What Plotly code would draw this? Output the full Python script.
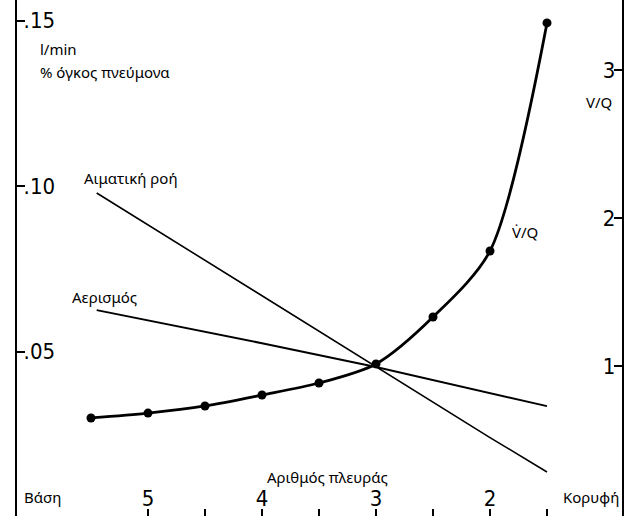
import plotly.graph_objects as go

# Rib number (x axis, base -> apex)
ribs = [5.45, 4, 3, 2, 1.5]
# Blood flow and ventilation (l/min per % lung volume, left axis)
blood_flow = [0.0979, 0.0668, 0.0453, 0.0240, 0.0136]
ventilation = [0.0625, 0.0525, 0.0453, 0.0374, 0.0335]
# V/Q ratio (right axis)
vq_ribs = [5.5, 5, 4.5, 4, 3.5, 3, 2.5, 2, 1.5]
vq = [0.649, 0.682, 0.730, 0.804, 0.885, 1.014, 1.331, 1.777, 3.318]

x_tickvals = [5, 4.5, 4, 3.5, 3, 2.5, 2, 1.5]
x_ticktext = ["5", "", "4", "", "3", "", "2", ""]
left_tickvals = [0.15, 0.10, 0.05]
left_ticktext = [".15", ".10", ".05"]
right_tickvals = [3, 2, 1]
right_ticktext = ["3", "2", "1"]

TXT = "Noto Sans, DejaVu Sans, sans-serif"
NUM = "Liberation Sans Narrow, DejaVu Sans Condensed, Arial Narrow, sans-serif"

fig = go.Figure()
fig.add_trace(go.Scatter(x=ribs, y=blood_flow, mode="lines",
                         line=dict(color="black", width=1.6), yaxis="y"))
fig.add_trace(go.Scatter(x=ribs, y=ventilation, mode="lines",
                         line=dict(color="black", width=2), yaxis="y"))
fig.add_trace(go.Scatter(x=vq_ribs, y=vq, mode="lines+markers",
                         line=dict(color="black", width=2.8, shape="spline", smoothing=0.8),
                         marker=dict(color="black", size=9), yaxis="y2"))

W, H = 626, 516
L, R = 17, 4
pw = W - L - R

def px(x):
    return (x - L) / pw

def py(y):
    return 1 - y / H

anns = [
    ("l/min", 38, 49, "left"),
    ("% όγκος πνεύμονα", 38, 72, "left"),
    ("Αιματική ροή", 82, 178, "left"),
    ("Αερισμός", 70, 297, "left"),
    ("V̇/Q", 510, 232, "left"),
    ("V/Q", 614, 102, "right"),
    ("Αριθμός πλευράς", 327, 477, "center"),
    ("Βάση", 22, 497, "left"),
    ("Κορυφή", 621, 497, "right"),
]
for t, x, y, a in anns:
    fig.add_annotation(text=t, x=px(x), y=py(y), xref="paper", yref="paper",
                       xanchor=a, yanchor="middle", showarrow=False,
                       font=dict(family=TXT, size=15, color="black"))

fig.update_layout(
    width=W, height=H,
    margin=dict(l=L, r=R, t=0, b=0),
    paper_bgcolor="white", plot_bgcolor="white",
    showlegend=False,
    xaxis=dict(range=[6.149, 0.842], showgrid=False, zeroline=False, showline=False,
               tickvals=x_tickvals, ticktext=x_ticktext,
               ticks="inside", ticklen=7, tickwidth=1.5, tickcolor="black",
               ticklabelposition="inside", ticklabelstandoff=0,
               tickfont=dict(family=NUM, size=22, color="black")),
    yaxis=dict(range=[0.0003, 0.1562], showgrid=False, zeroline=False,
               showline=True, linecolor="black", linewidth=2,
               tickvals=left_tickvals, ticktext=left_ticktext,
               ticks="inside", ticklen=8, tickwidth=1.5, tickcolor="black",
               ticklabelposition="inside",
               tickfont=dict(family=NUM, size=22, color="black")),
    yaxis2=dict(range=[-0.0135, 3.473], overlaying="y", side="right",
                showgrid=False, zeroline=False,
                showline=True, linecolor="black", linewidth=2,
                tickvals=right_tickvals, ticktext=right_ticktext,
                ticks="inside", ticklen=8, tickwidth=1.5, tickcolor="black",
                ticklabelposition="inside",
                tickfont=dict(family=NUM, size=22, color="black")),
)

fig.write_html("out.html", config={"displayModeBar": False},
               post_script="document.body.style.margin='0';document.body.style.overflow='hidden';")
